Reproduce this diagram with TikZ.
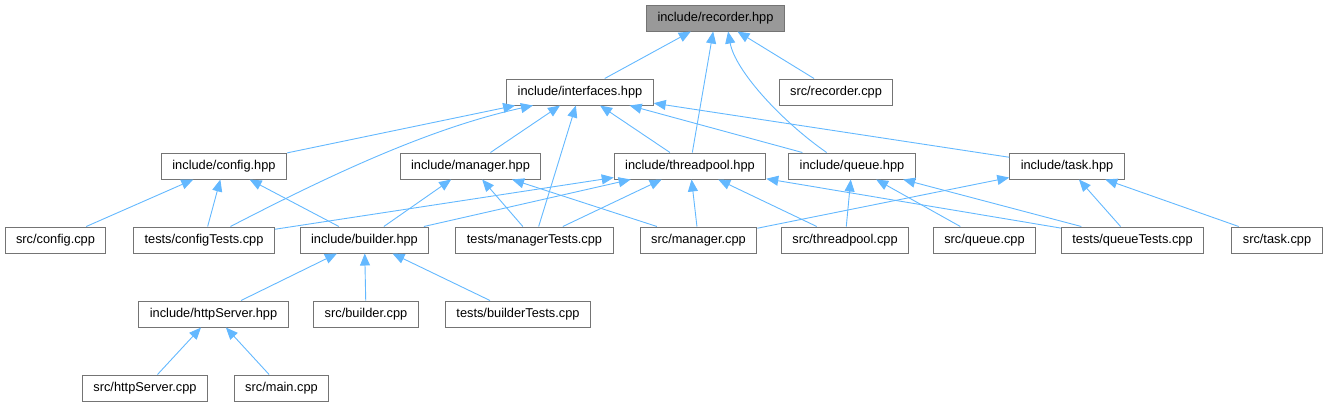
\documentclass[tikz,border=0pt]{standalone}
\usepackage{fontspec}
\setmainfont{Liberation Sans}
\usetikzlibrary{arrows.meta}
\usepackage{xcolor}
\definecolor{depblue}{HTML}{63B8FF}
\definecolor{boxgray}{HTML}{747474}
\definecolor{hlgray}{HTML}{999999}

\begin{document}
\begin{tikzpicture}[
  x=1pt, y=-1pt,
  filebox/.style={draw=boxgray, line width=1pt, fill=white, minimum height=26pt,
               inner xsep=11pt, inner ysep=0pt, font=\fontsize{12.8}{14}\selectfont},
  current/.style={filebox, fill=hlgray},
  arr/.style={-{Triangle[length=12pt, width=10pt]}, line width=0.9pt, depblue}
]
  \useasboundingbox (0,0) rectangle (1328,405);

  % Row 0: the header itself
  \node[current] (recorder) at (715.5, 18) {include/recorder.hpp};

  % Row 1
  \node[filebox] (interfaces) at (580, 92) {include/interfaces.hpp};
  \node[filebox] (reccpp) at (836, 92) {src/recorder.cpp};

  % Row 2: headers
  \node[filebox] (config) at (224, 166) {include/config.hpp};
  \node[filebox] (manager) at (470.5, 166) {include/manager.hpp};
  \node[filebox] (threadpool) at (690, 166) {include/threadpool.hpp};
  \node[filebox] (queue) at (852, 166) {include/queue.hpp};
  \node[filebox] (task) at (1067, 166) {include/task.hpp};

  % Row 3: sources and tests
  \node[filebox] (configcpp) at (55.5, 240) {src/config.cpp};
  \node[filebox] (cfgtests) at (204, 240) {tests/configTests.cpp};
  \node[filebox] (builder) at (364.5, 240) {include/builder.hpp};
  \node[filebox] (mgrtests) at (534.5, 240) {tests/managerTests.cpp};
  \node[filebox] (managercpp) at (698.5, 240) {src/manager.cpp};
  \node[filebox] (poolcpp) at (845, 240) {src/threadpool.cpp};
  \node[filebox] (queuecpp) at (984.5, 240) {src/queue.cpp};
  \node[filebox] (queuetests) at (1132.5, 240) {tests/queueTests.cpp};
  \node[filebox] (taskcpp) at (1277, 240) {src/task.cpp};

  % Row 4
  \node[filebox] (httpserver) at (213.5, 314) {include/httpServer.hpp};
  \node[filebox] (buildercpp) at (366, 314) {src/builder.cpp};
  \node[filebox] (buildertests) at (518, 314) {tests/builderTests.cpp};

  % Row 5
  \node[filebox] (httpcpp) at (145, 388) {src/httpServer.cpp};
  \node[filebox] (maincpp) at (281.5, 388) {src/main.cpp};

  % Includes of recorder.hpp
  \draw[arr] (interfaces) -- (recorder);
  \draw[arr] (threadpool) -- (recorder);
  \draw[arr] (queue.152) .. controls (780,120) and (735,70) .. (recorder.313);
  \draw[arr] (reccpp) -- (recorder);

  % Includes of interfaces.hpp
  \draw[arr] (config) -- (interfaces);
  \draw[arr] (cfgtests.27) .. controls (330,175) and (430,128) .. (interfaces.196);
  \draw[arr] (manager) -- (interfaces);
  \draw[arr] (mgrtests) -- (interfaces);
  \draw[arr] (threadpool) -- (interfaces);
  \draw[arr] (queue) -- (interfaces);
  \draw[arr] (task) -- (interfaces);

  % Row 2 headers
  \draw[arr] (configcpp) -- (config);
  \draw[arr] (cfgtests) -- (config);
  \draw[arr] (builder) -- (config);
  \draw[arr] (builder) -- (manager);
  \draw[arr] (mgrtests) -- (manager);
  \draw[arr] (managercpp) -- (manager);
  \draw[arr] (cfgtests) -- (threadpool);
  \draw[arr] (builder) -- (threadpool);
  \draw[arr] (mgrtests) -- (threadpool);
  \draw[arr] (managercpp) -- (threadpool);
  \draw[arr] (poolcpp) -- (threadpool);
  \draw[arr] (queuetests) -- (threadpool);
  \draw[arr] (poolcpp) -- (queue);
  \draw[arr] (queuecpp) -- (queue);
  \draw[arr] (queuetests) -- (queue);
  \draw[arr] (managercpp) -- (task);
  \draw[arr] (queuetests) -- (task);
  \draw[arr] (taskcpp) -- (task);

  % builder.hpp and httpServer.hpp
  \draw[arr] (httpserver) -- (builder);
  \draw[arr] (buildercpp) -- (builder);
  \draw[arr] (buildertests) -- (builder);
  \draw[arr] (httpcpp) -- (httpserver);
  \draw[arr] (maincpp) -- (httpserver);

\end{tikzpicture}
\end{document}
